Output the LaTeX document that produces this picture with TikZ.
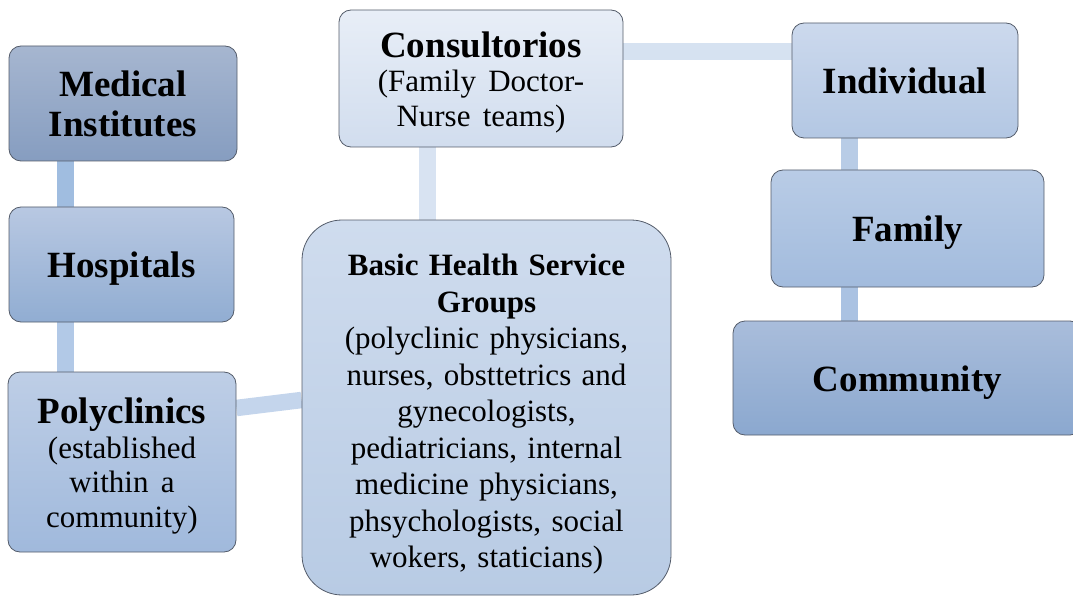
\documentclass[tikz,border=0pt]{standalone}
\usepackage{fontspec}
\setmainfont{Liberation Serif}
\usetikzlibrary{backgrounds}
\definecolor{edgecol}{RGB}{84,92,106}
\definecolor{medT}{RGB}{166,182,208}
\definecolor{medB}{RGB}{134,157,192}
\definecolor{hosT}{RGB}{184,200,226}
\definecolor{hosB}{RGB}{145,173,210}
\definecolor{polT}{RGB}{190,206,230}
\definecolor{polB}{RGB}{160,185,220}
\definecolor{conT}{RGB}{232,238,247}
\definecolor{conB}{RGB}{209,221,238}
\definecolor{basT}{RGB}{207,220,238}
\definecolor{basB}{RGB}{184,203,228}
\definecolor{indT}{RGB}{204,217,237}
\definecolor{indB}{RGB}{179,199,227}
\definecolor{famT}{RGB}{185,204,230}
\definecolor{famB}{RGB}{162,187,221}
\definecolor{comT}{RGB}{169,189,219}
\definecolor{comB}{RGB}{139,168,207}
\definecolor{lnA}{RGB}{160,189,224}
\definecolor{lnB}{RGB}{178,201,231}
\definecolor{lnC}{RGB}{196,213,236}
\definecolor{lnD}{RGB}{216,227,242}
\definecolor{lnE}{RGB}{214,226,241}
\definecolor{lnF}{RGB}{184,204,230}
\definecolor{lnG}{RGB}{170,194,226}
\tikzset{
  box/.style={draw=edgecol, line width=0.8pt, rounded corners=12pt, inner sep=0pt,
    align=center, font=\fontsize{37}{42}\selectfont\bfseries},
  lift/.style={execute at begin node={\rule{0pt}{#1}}},
  conn/.style={line width=16.5pt, line cap=butt}
}
\newcommand{\subtxt}[1]{{\fontsize{31}{34.5}\selectfont\mdseries #1\par}}
\begin{document}
\begin{tikzpicture}[x=1pt,y=1pt]
\useasboundingbox (0,0) rectangle (1073,-596);
\node[box, top color=medT, bottom color=medB, minimum width=228pt, minimum height=115pt, text width=210pt]
  (med) at (123,-103.5) {Medical\\[-2pt]Institutes};
\node[box, lift=33pt, top color=hosT, bottom color=hosB, minimum width=225pt, minimum height=115pt, text width=210pt]
  (hos) at (121.5,-264.5) {Hospitals};
\node[box, lift=34pt, top color=polT, bottom color=polB, minimum width=228pt, minimum height=180pt, text width=210pt]
  (pol) at (122,-462) {Polyclinics\par\subtxt{(established\\within a\\community)}};
\node[box, lift=33pt, top color=conT, bottom color=conB, minimum width=284pt, minimum height=137pt, text width=270pt]
  (con) at (481,-78.5) {Consultorios\par\subtxt{(Family Doctor-\\Nurse teams)}};
\node[box, lift=35pt, rounded corners=40pt, top color=basT, bottom color=basB, minimum width=369pt, minimum height=375pt, text width=340pt,
  font=\fontsize{31}{36.5}\selectfont\bfseries]
  (bas) at (486.5,-407.5) {Basic Health Service\\Groups\par
  {\mdseries (polyclinic physicians,\\nurses, obsttetrics and\\gynecologists,\\pediatricians, internal\\medicine physicians,\\phsychologists, social\\wokers, staticians)\par}};
\node[box, top color=indT, bottom color=indB, minimum width=226pt, minimum height=115pt, text width=210pt]
  (ind) at (905,-80.5) {Individual};
\node[box, lift=33pt, top color=famT, bottom color=famB, minimum width=273pt, minimum height=117pt, text width=250pt]
  (fam) at (907.5,-228.5) {Family};
\node[box, lift=35pt, top color=comT, bottom color=comB, minimum width=349pt, minimum height=114pt, text width=320pt]
  (com) at (907.5,-378) {Community};
\begin{scope}[on background layer]
\draw[conn, lnA] ([xshift=57pt]med.south west) -- ([xshift=57pt]hos.north west);
\draw[conn, lnB] ([xshift=57pt]hos.south west) -- ([xshift=58pt]pol.north west);
\draw[conn, lnC] ([yshift=54pt]pol.east) -- ([yshift=7.5pt]bas.west);
\draw[conn, lnD] ([xshift=89pt]con.south west) -- ([xshift=126pt]bas.north west);
\draw[conn, lnE] ([yshift=-42pt]con.north east) -- ([yshift=-29pt]ind.north west);
\draw[conn, lnF] ([xshift=58pt]ind.south west) -- ([xshift=79pt]fam.north west);
\draw[conn, lnG] ([xshift=79pt]fam.south west) -- ([xshift=117pt]com.north west);
\end{scope}
\end{tikzpicture}
\end{document}
